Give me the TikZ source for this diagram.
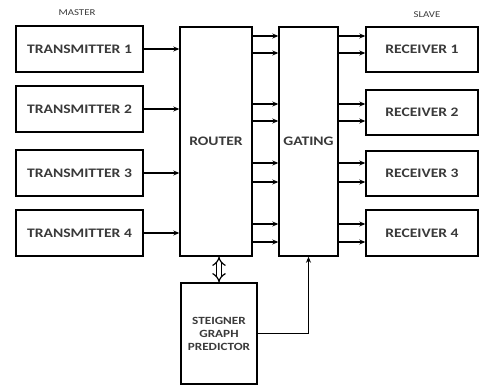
\documentclass[tikz,border=0pt]{standalone}
\usepackage{fontspec}
\setmainfont[FakeStretch=1.2]{Carlito}
\usetikzlibrary{arrows.meta}
\definecolor{txt}{HTML}{3A3A3A}
\tikzset{
  box/.style={draw=black, line width=1.4pt, rectangle, inner sep=0pt, font=\bfseries\fontsize{13}{14}\selectfont, text=txt, align=center},
  arr/.style={line width=1.3pt, -{Stealth[length=6pt,width=5pt]}},
  lab/.style={font=\fontsize{9}{10}\selectfont, text=txt}
}
\begin{document}
\begin{tikzpicture}[x=1pt,y=-1pt]
\useasboundingbox (0,0) rectangle (481,385);
% labels
\node[lab] (master) at (77,13) {MASTER};
\node[lab] (slave) at (427,15) {SLAVE};
% transmitters
\node[box, minimum width=127pt, minimum height=46pt] (t1) at (79.5,49) {TRANSMITTER 1};
\node[box, minimum width=127pt, minimum height=46pt] (t2) at (79.5,109) {TRANSMITTER 2};
\node[box, minimum width=127pt, minimum height=46pt] (t3) at (79.5,173) {TRANSMITTER 3};
\node[box, minimum width=127pt, minimum height=46pt] (t4) at (79.5,233) {TRANSMITTER 4};
% router and gating
\node[box, minimum width=72pt, minimum height=229pt] (router) at (216,141.5) {ROUTER};
\node[box, minimum width=59pt, minimum height=229pt] (gating) at (308.5,141.5) {GATING};
% receivers
\node[box, minimum width=112pt, minimum height=45pt] (r1) at (422,49.5) {RECEIVER 1};
\node[box, minimum width=112pt, minimum height=45pt] (r2) at (422,112.5) {RECEIVER 2};
\node[box, minimum width=112pt, minimum height=45pt] (r3) at (422,173.5) {RECEIVER 3};
\node[box, minimum width=112pt, minimum height=46pt] (r4) at (422,233) {RECEIVER 4};
% predictor
\node[box, minimum width=76pt, minimum height=101pt, font=\bfseries\fontsize{11}{13}\selectfont] (steig) at (219,333.5) {STEIGNER\\GRAPH\\PREDICTOR};
% transmitter arrows
\foreach \t in {t1,t2,t3,t4}
  \draw[arr] (\t.east) -- (\t.east -| router.west);
% router -> gating -> receivers
\foreach \y in {36,53,104,121,163,182,224,242} {
  \draw[arr] (router.east |- 0,\y) -- (gating.west |- 0,\y);
  \draw[arr] (gating.east |- 0,\y) -- (r1.west |- 0,\y);
}
% double arrow
\draw[line width=1.2pt, double, double distance=3.5pt, {Implies}-{Implies}] (steig.north) -- (steig.north |- router.south);
% predictor -> gating
\draw[arr] (steig.east) -| (gating.south);
\end{tikzpicture}
\end{document}
